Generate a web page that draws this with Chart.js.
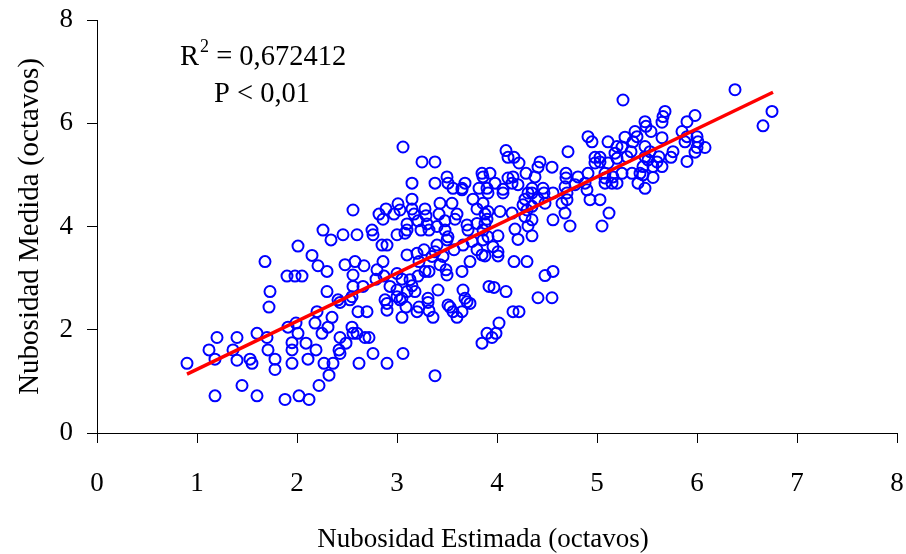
<!DOCTYPE html>
<html><head><meta charset="utf-8">
<script src="https://cdn.jsdelivr.net/npm/chart.js@4.4.0/dist/chart.umd.min.js"></script>
<style>html,body{margin:0;padding:0;background:#fff}</style>
</head><body>
<canvas id="c" width="906" height="554"></canvas>
<script>
const estimada = [1.72,2.20,2.35,1.20,1.40,1.60,1.70,1.91,1.99,2.01,2.18,2.25,2.31,1.12,1.36,1.71,1.95,1.95,2.09,2.19,0.90,1.18,1.40,1.53,1.55,1.78,1.78,1.95,2.11,2.27,2.36,2.32,2.22,1.45,1.18,1.60,1.88,2.02,2.12,2.26,2.34,2.01,2.15,2.21,2.30,1.68,1.90,1.98,2.05,1.73,2.30,2.43,2.53,2.90,2.90,3.03,3.09,3.22,3.20,3.31,3.32,3.36,3.53,3.56,3.60,3.65,3.70,3.73,2.61,2.70,3.05,2.55,2.43,2.56,2.60,2.68,2.72,2.49,2.42,2.43,2.76,3.06,2.62,2.90,3.38,3.90,3.85,2.56,3.15,3.43,3.55,3.65,3.76,3.86,2.89,2.82,2.86,3.01,3.03,2.97,3.15,3.17,3.28,3.29,3.42,3.48,3.60,3.58,3.80,3.88,3.90,3.10,3.21,3.24,3.30,3.32,3.40,3.48,3.70,3.71,3.80,3.86,2.75,2.76,2.46,2.60,3.00,2.85,2.90,3.51,3.50,3.08,3.10,3.75,3.86,3.40,3.66,3.80,3.85,3.57,3.27,3.20,3.38,3.35,3.10,2.86,3.46,3.43,3.73,3.22,2.48,2.58,2.67,2.56,2.80,2.87,2.79,3.00,3.05,3.13,3.15,3.21,3.28,3.32,3.49,3.50,3.65,3.92,2.56,2.66,2.93,3.00,3.41,3.66,3.68,2.88,3.00,3.05,3.10,3.18,3.31,3.51,2.41,2.55,3.06,3.25,3.38,3.50,3.51,3.15,3.38,3.56,3.65,3.68,3.85,3.86,3.82,3.90,3.88,4.01,4.17,4.30,4.48,4.56,3.97,4.09,4.41,4.55,4.16,4.22,4.02,3.99,3.95,4.09,4.11,4.17,4.22,4.43,4.41,4.71,4.95,5.11,5.25,5.34,5.30,4.98,5.03,5.18,5.20,4.55,3.93,4.29,4.38,4.69,4.69,4.81,4.91,5.08,5.08,5.25,5.35,4.11,4.15,3.98,3.91,4.06,4.21,4.31,4.28,4.26,4.35,4.46,4.47,4.56,4.65,4.70,4.70,4.78,4.88,5.08,5.15,5.20,4.93,5.03,4.41,4.48,3.91,4.03,4.15,4.30,4.35,4.28,4.35,4.31,4.56,4.68,4.73,5.12,5.05,4.18,4.21,4.35,4.01,3.91,3.96,4.01,3.88,6.38,6.75,6.66,5.68,5.66,5.65,5.48,5.49,5.38,5.40,5.54,5.65,5.90,5.98,5.85,5.90,6.00,6.01,5.88,6.08,6.00,5.98,5.76,5.74,5.90,5.36,5.48,5.53,5.62,5.51,5.46,5.56,5.65,5.43,5.56,5.41,5.48,5.26,4.91,5.28,5.20,5.03,4.98,5.11,5.48,5.60,4.16,5.16,5.46,4.06,4.35,4.68,4.90];
const medida = [2.44,2.35,2.24,1.85,1.85,1.93,1.85,2.05,2.13,1.93,2.13,1.93,2.05,1.61,1.61,1.61,1.75,1.61,1.74,1.61,1.35,1.43,1.41,1.43,1.35,1.43,1.23,1.35,1.43,1.35,1.35,1.12,0.92,0.92,0.72,0.72,0.65,0.72,0.65,3.93,3.74,3.62,3.44,3.24,3.13,3.32,3.04,3.04,3.04,2.74,2.74,2.53,2.58,2.51,2.38,2.58,2.44,2.44,2.35,2.53,2.37,2.24,2.44,2.35,2.24,2.35,2.54,2.51,2.35,2.35,2.24,2.05,1.85,1.93,1.93,1.85,1.85,1.74,1.61,1.54,1.54,1.54,1.35,1.35,1.11,1.93,1.74,4.32,4.53,4.45,4.45,4.71,4.53,4.45,4.34,4.24,4.14,4.44,4.32,4.24,4.34,4.24,4.34,4.21,4.24,4.11,4.24,4.14,4.34,4.24,4.14,4.05,4.11,3.93,4.05,3.93,4.00,3.93,4.03,3.93,4.06,3.93,3.93,3.84,3.84,3.84,3.84,3.64,3.64,3.80,3.74,3.87,3.93,3.71,3.74,3.64,3.64,3.55,3.45,3.55,3.55,3.48,3.51,3.42,3.45,3.32,3.42,3.26,3.32,3.32,3.26,3.32,3.24,3.06,3.16,3.04,2.98,3.09,2.98,2.97,2.85,3.04,3.13,3.13,3.16,3.06,3.13,2.84,2.84,2.84,2.84,2.77,2.77,2.77,2.61,2.58,2.64,2.61,2.74,2.74,2.61,2.48,2.58,2.64,5.54,5.25,5.25,4.96,4.84,4.84,4.84,4.74,4.74,4.84,5.03,4.96,4.74,4.74,3.43,3.43,3.32,3.32,3.05,3.13,2.82,2.74,2.62,2.62,2.35,2.35,2.13,1.93,1.85,5.47,5.34,5.34,5.23,5.25,5.15,5.45,5.64,5.64,5.54,5.45,5.35,5.34,5.34,5.42,5.32,5.15,5.03,5.03,4.96,5.03,4.94,4.96,5.03,5.03,4.94,5.03,5.03,4.94,4.84,4.84,4.65,4.65,4.81,4.65,4.53,4.42,4.65,4.74,4.65,4.65,4.45,4.65,4.52,4.81,4.84,4.84,4.84,4.84,4.52,4.52,4.53,4.45,4.29,4.29,4.26,4.32,4.39,4.19,4.13,4.01,4.13,4.26,4.01,4.26,4.01,3.95,3.75,3.82,3.82,3.80,3.61,3.51,4.06,6.65,6.23,5.95,6.23,6.13,6.02,6.03,5.94,5.84,5.74,5.84,5.72,6.03,6.15,5.84,5.74,5.74,5.64,5.64,5.53,5.53,5.44,5.45,5.34,5.26,5.64,5.55,5.45,5.35,5.29,5.16,5.16,5.16,5.03,4.95,4.84,4.74,6.45,5.74,5.73,5.55,5.25,5.23,5.23,5.35,5.25,4.96,4.96,5.00,4.72,4.74,4.77,4.71];
const lineX = [0.90, 6.76];
const lineY = [1.14, 6.60];
const xTickValues = [0,1,2,3,4,5,6,7,8];
const yTickValues = [0,2,4,6,8];
const xTitle = 'Nubosidad Estimada (octavos)';
const yTitle = 'Nubosidad Medida (octavos)';
const statR = 'R';
const statSup = '2';
const statEq = ' = 0,672412';
const statP = 'P < 0,01';

const FONT = "'Liberation Serif', 'Times New Roman', serif";
const points = estimada.map((x, i) => ({x: x, y: medida[i]}));
const linePts = lineX.map((x, i) => ({x: x, y: lineY[i]}));

const textPlugin = {
  id: 'texts',
  afterDraw(chart) {
    const ctx = chart.ctx;
    ctx.save();
    ctx.fillStyle = '#000';
    ctx.textBaseline = 'alphabetic';
    ctx.textAlign = 'left';
    ctx.font = '28.5px ' + FONT;
    let x = 180;
    ctx.fillText(statR, x, 65);
    x += ctx.measureText(statR).width;
    ctx.font = '18px ' + FONT;
    ctx.fillText(statSup, x + 1, 52);
    x += ctx.measureText(statSup).width + 1;
    ctx.font = '28.5px ' + FONT;
    ctx.fillText(statEq, x, 65);
    ctx.fillText(statP, 214, 102);
    // x-axis title, centred where the original places it
    ctx.font = '27px ' + FONT;
    ctx.textAlign = 'center';
    ctx.textBaseline = 'middle';
    ctx.fillText(xTitle, 483, 540);
    ctx.restore();
  }
};

new Chart(document.getElementById('c'), {
  data: {
    datasets: [
      {type: 'line', data: linePts, borderColor: '#ff0000', borderWidth: 3.5, pointRadius: 0, fill: false, order: 0},
      {type: 'scatter', data: points, borderColor: '#0000ff', backgroundColor: 'rgba(0,0,0,0)', borderWidth: 2, pointRadius: 5.5, pointHoverRadius: 5.5, order: 1}
    ]
  },
  options: {
    responsive: false,
    animation: false,
    layout: {padding: {left: 0, right: 9, top: 20, bottom: 0}},
    plugins: {legend: {display: false}, tooltip: {enabled: false}},
    scales: {
      x: {
        type: 'linear', min: 0, max: 8,
        afterBuildTicks: s => { s.ticks = xTickValues.map(v => ({value: v})); },
        ticks: {font: {family: FONT, size: 27}, color: '#000', padding: 25, autoSkip: false, maxRotation: 0},
        grid: {drawOnChartArea: false, drawTicks: true, tickLength: 10, color: '#000', lineWidth: 1},
        border: {color: '#000', width: 1},
        title: {display: false, text: xTitle},
        afterFit: s => { s.height = 121; s.paddingLeft = 0; s.paddingRight = 0; }
      },
      y: {
        type: 'linear', min: 0, max: 8,
        afterBuildTicks: s => { s.ticks = yTickValues.map(v => ({value: v})); },
        ticks: {font: {family: FONT, size: 27}, color: '#000', padding: 14, autoSkip: false},
        grid: {drawOnChartArea: false, drawTicks: true, tickLength: 10, color: '#000', lineWidth: 1},
        border: {color: '#000', width: 1},
        title: {display: true, text: yTitle, color: '#000', font: {family: FONT, size: 29}, padding: {top: 13, bottom: 0}},
        afterFit: s => { s.width = 97; s.paddingTop = 0; s.paddingBottom = 0; }
      }
    }
  },
  plugins: [textPlugin]
});
</script>
</body></html>
